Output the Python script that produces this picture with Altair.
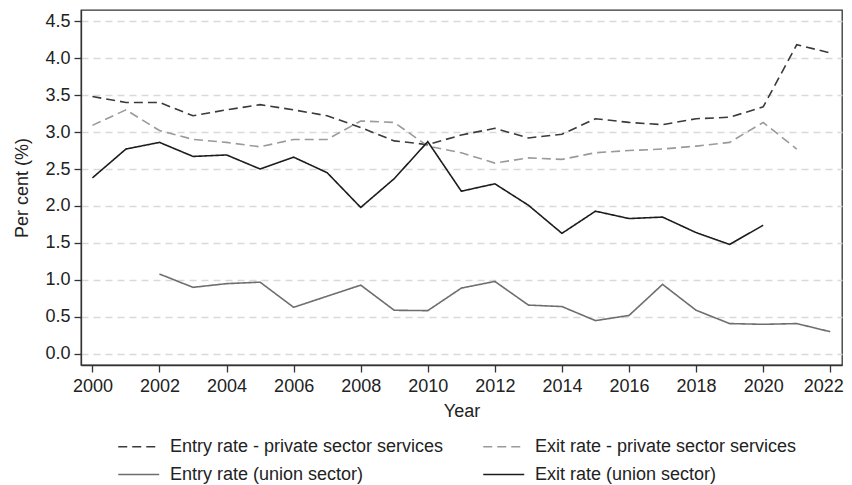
import altair as alt
import pandas as pd

years = list(range(2000, 2023))
series_names = [
    "Entry rate - private sector services",
    "Entry rate (union sector)",
    "Exit rate - private sector services",
    "Exit rate (union sector)",
]
entry_private = [3.48, 3.40, 3.40, 3.22, 3.30, 3.37, 3.30, 3.22, 3.06, 2.88, 2.83, 2.96,
                 3.05, 2.92, 2.97, 3.18, 3.13, 3.10, 3.18, 3.20, 3.34, 4.18, 4.07]
entry_union = [None, None, 1.08, 0.90, 0.95, 0.97, 0.63, 0.78, 0.93, 0.59, 0.585, 0.89,
               0.98, 0.66, 0.64, 0.45, 0.52, 0.94, 0.59, 0.41, 0.40, 0.41, 0.30]
exit_private = [3.09, 3.30, 3.02, 2.90, 2.86, 2.80, 2.90, 2.90, 3.15, 3.13, 2.81, 2.72,
                2.58, 2.65, 2.63, 2.72, 2.75, 2.77, 2.81, 2.86, 3.13, 2.77, None]
exit_union = [2.38, 2.77, 2.86, 2.67, 2.69, 2.50, 2.66, 2.45, 1.98, 2.37, 2.87, 2.20,
              2.30, 2.01, 1.63, 1.93, 1.83, 1.85, 1.64, 1.48, 1.74, None, None]

x_ticks = list(range(2000, 2023, 2))
y_ticks = [0.0, 0.5, 1.0, 1.5, 2.0, 2.5, 3.0, 3.5, 4.0, 4.5]

rows = []
for name, vals in zip(series_names, [entry_private, entry_union, exit_private, exit_union]):
    for yr, v in zip(years, vals):
        if v is not None:
            rows.append({"year": yr, "value": v, "series": name})
df = pd.DataFrame(rows)

colors = ["#3a3a3a", "#6e6e6e", "#9a9a9a", "#1c1c1c"]
dashes = [[9, 5], [1, 0], [9, 5], [1, 0]]

FONT = "Liberation Sans, Arial"

legend = alt.Legend(
    title=None, orient="none", legendX=36, legendY=425, columns=2,
    symbolType="M-1,0H3", symbolSize=420, symbolStrokeWidth=1.6,
    labelFont=FONT, labelFontSize=18, labelColor="#222222", labelOffset=30,
    columnPadding=36, rowPadding=7, padding=0, labelLimit=400,
)

chart = alt.Chart(df).mark_line(strokeWidth=1.6).encode(
    x=alt.X("year:Q",
            scale=alt.Scale(domain=[1999.66, 2022.35], nice=False, zero=False),
            axis=alt.Axis(values=x_ticks, format="d", title="Year", grid=False,
                          labelFont=FONT, labelFontSize=18, labelPadding=5,
                          labelOffset=alt.condition("datum.value == 2022", alt.value(-7), alt.value(0)),
                          titleFont=FONT, titleFontSize=18, titleFontWeight="normal",
                          titlePadding=7)),
    y=alt.Y("value:Q",
            scale=alt.Scale(domain=[-0.15, 4.65], nice=False, zero=False),
            axis=alt.Axis(values=y_ticks, format=".1f", title="Per cent (%)", grid=True,
                          gridDash=[7, 5], gridColor="#d9d9d9", gridWidth=1.4,
                          labelFont=FONT, labelFontSize=18, labelPadding=4,
                          titleFont=FONT, titleFontSize=18, titleFontWeight="normal",
                          titlePadding=13)),
    color=alt.Color("series:N", scale=alt.Scale(domain=series_names, range=colors), legend=legend),
    strokeDash=alt.StrokeDash("series:N", scale=alt.Scale(domain=series_names, range=dashes), legend=legend),
).properties(
    width=761, height=355,
    autosize=alt.AutoSizeParams(type="none"),
    padding={"left": 73, "top": 2, "right": 2, "bottom": 122},
).configure_view(
    stroke="#333333", strokeWidth=1.3,
).configure_axis(
    domainColor="#333333", domainWidth=1.3, tickColor="#333333", tickSize=7, tickWidth=1.3,
    labelColor="#222222", titleColor="#222222",
)

chart.save("out.html", embed_options={"renderer": "svg", "actions": False})
